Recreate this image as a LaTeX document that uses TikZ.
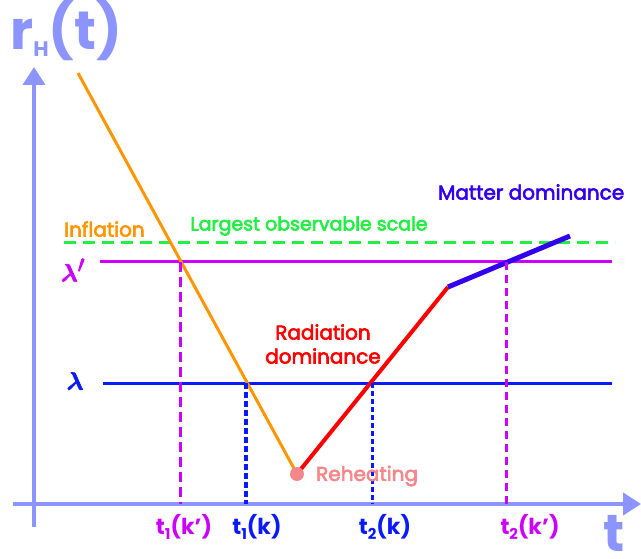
\documentclass[tikz,border=0pt]{standalone}
\usepackage{fontspec}
\usepackage{amsmath,amssymb,bm}
\setmainfont{Poppins}
\usetikzlibrary{arrows.meta}

\definecolor{axiscol}{HTML}{8C94FF}
\definecolor{inflcol}{HTML}{FF9500}
\definecolor{primecol}{HTML}{CC00FF}
\definecolor{lamcol}{HTML}{0A1AFF}
\definecolor{scalecol}{HTML}{22EE44}
\definecolor{radcol}{HTML}{FF0000}
\definecolor{matcol}{HTML}{3300EE}
\definecolor{rehcol}{HTML}{F4878A}

\newcommand{\lowsub}[1]{\raisebox{-0.25em}{\fontsize{15}{15}\selectfont #1}}
% slightly heavier strokes for the plain labels
\newcommand{\medtxt}[1]{\special{pdf:literal direct 2 Tr 0.6 w}#1\special{pdf:literal direct 0 Tr}}

\begin{document}
\begin{tikzpicture}[x=1pt,y=-1pt,
                    axis/.style={draw=axiscol,line width=4pt,-{Triangle[length=18pt,width=22pt]}},
                    hline/.style={line width=3pt},
                    vline/.style={line width=3pt},
                    lbl/.style={inner sep=0pt,font=\fontsize{20}{24}\selectfont},
                    tlbl/.style={inner sep=0pt,font=\fontsize{22}{26}\selectfont\bfseries}]
  \useasboundingbox (0,0) rectangle (641,559);
  % axes
  \coordinate (o)  at (34,504);
  \coordinate (yb) at (34,527);
  \coordinate (yt) at (34,67);
  \coordinate (xl) at (13,504);
  \coordinate (xr) at (641,504);
  \draw[axis] (yb)--(yt);
  \draw[axis] (xl)--(xr);
  \node[anchor=base west,inner sep=0pt,text=axiscol,font=\fontsize{54}{60}\selectfont\bfseries]
    (rH) at (10,50) {r\raisebox{-7pt}{\fontsize{21}{21}\selectfont\bfseries H}(t)};
  \node[anchor=base,inner sep=0pt,text=axiscol,font=\fontsize{52}{60}\selectfont\bfseries]
    (tx) at (614,551) {t};
  % scales
  \coordinate (gl) at (64,243);
  \coordinate (gr) at (615,243);
  \coordinate (pl) at (100,262);
  \coordinate (pr) at (612,262);
  \coordinate (ll) at (103,383);
  \coordinate (lr) at (612,383);
  \draw[scalecol,line width=3pt,dash pattern=on 12pt off 7pt] (gl)--(gr);
  \draw[hline,primecol] (pl)--(pr);
  \draw[hline,lamcol] (ll)--(lr);
  \node[text=primecol,font=\fontsize{46}{46}\selectfont] (lp) at (73,270) {\medtxt{$\bm{\lambda}'$}};
  \node[text=lamcol,font=\fontsize{46}{46}\selectfont] (lm) at (75,381) {\medtxt{$\bm{\lambda}$}};
  % evolution of the horizon
  \coordinate (infl) at (78,73);
  \coordinate (reh)  at (297,474);
  \coordinate (rad)  at (448,287);
  \coordinate (mat)  at (570,236);
  \draw[inflcol,line width=3pt] (infl)--(reh);
  \draw[radcol,line width=4pt] (reh)--(rad);
  \draw[matcol,line width=5pt] (rad)--(mat);
  \fill[rehcol] (reh) circle (7pt);
  % crossings
  \coordinate (a1) at (180,262);
  \coordinate (b1) at (246,383);
  \coordinate (b2) at (372,383);
  \coordinate (a2) at (506,262);
  \draw[vline,primecol,dash pattern=on 10pt off 5pt] (a1)--(a1|-o);
  \draw[vline,lamcol,line width=4pt,dash pattern=on 6pt off 3pt] (b1)--(b1|-o);
  \draw[vline,lamcol,dash pattern=on 5pt off 3pt] (b2)--(b2|-o);
  \draw[vline,primecol,dash pattern=on 8pt off 5pt] (a2)--(a2|-o);
  \node[tlbl,text=primecol] (t1p) at (184,527) {t\lowsub{1}(k’)};
  \node[tlbl,text=lamcol]   (t1)  at (257,527) {t\lowsub{1}(k)};
  \node[tlbl,text=lamcol]   (t2)  at (385,527) {t\lowsub{2}(k)};
  \node[tlbl,text=primecol] (t2p) at (530,527) {t\lowsub{2}(k’)};
  % labels
  \node[lbl,text=inflcol,anchor=west] (inf) at (64,229) {\medtxt{Inflation}};
  \node[lbl,text=scalecol,font=\fontsize{19}{23}\selectfont] (lgs) at (309,226) {\medtxt{Largest observable scale}};
  \node[lbl,text=radcol,align=center] (rdo) at (323,344) {\medtxt{Radiation}\\\medtxt{dominance}};
  \node[lbl,text=matcol,anchor=west] (mdo) at (438,192) {\medtxt{Matter dominance}};
  \node[lbl,text=rehcol,anchor=west] (rhe) at (316,476) {\medtxt{Reheating}};
\end{tikzpicture}
\end{document}
